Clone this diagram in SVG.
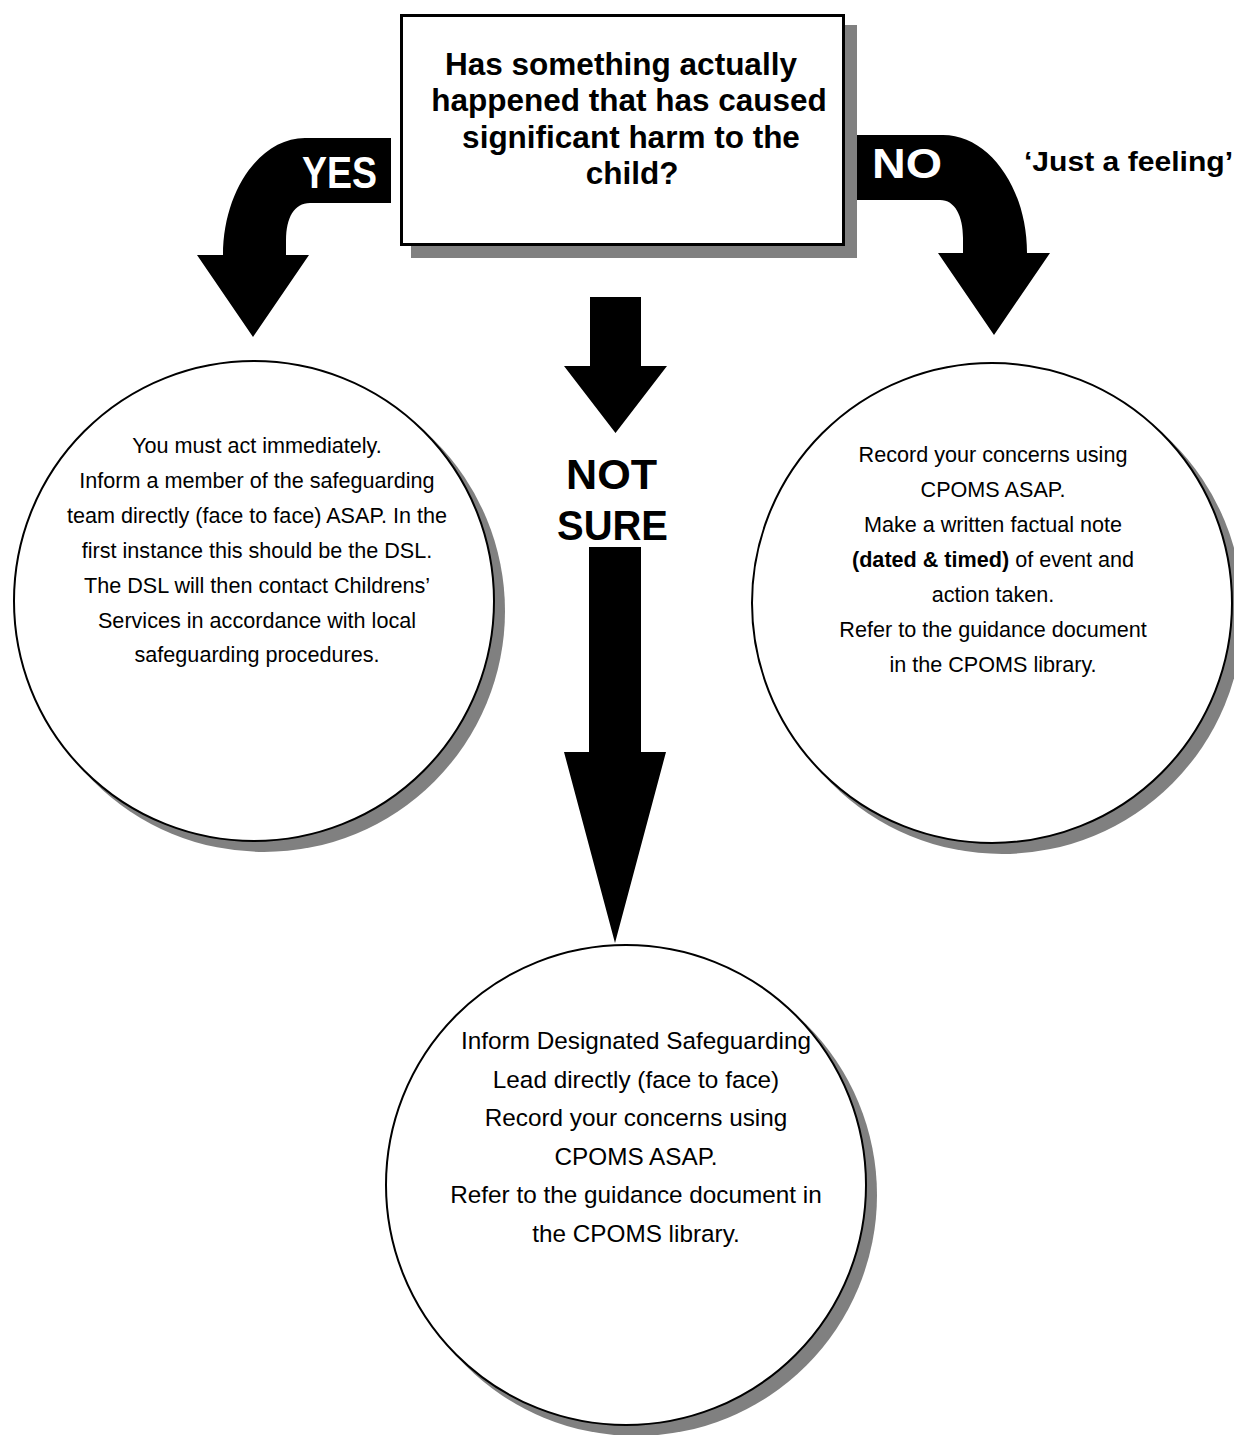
<svg xmlns="http://www.w3.org/2000/svg" width="1234" height="1435" viewBox="0 0 1234 1435">
  <style>
    .shadow { fill: #808080; stroke: none; }
    .node { fill: #ffffff; stroke: #000000; stroke-width: 2; }
    .box { fill: #ffffff; stroke: #000000; stroke-width: 3; }
    .arrow { fill: #000000; stroke: none; }
    .q { font-family: "Liberation Sans", Arial, sans-serif; font-weight: bold; font-size: 31.5px; fill: #000; text-anchor: middle; }
    .body { font-family: "Liberation Sans", Arial, sans-serif; font-size: 21.6px; fill: #000; text-anchor: middle; }
    .body2 { font-family: "Liberation Sans", Arial, sans-serif; font-size: 24.3px; fill: #000; text-anchor: middle; }
    .lbl { font-family: "Liberation Sans", Arial, sans-serif; font-weight: bold; fill: #fff; }
    .lblk { font-family: "Liberation Sans", Arial, sans-serif; font-weight: bold; fill: #000; }
  </style>
  <rect width="1234" height="1435" fill="#ffffff"/>

  <g id="connectors">
    <path id="arrow-yes" class="arrow" d="M 391,138 L 305,138 C 260,138 223,191 223,255 L 197,255 L 253,337 L 309,255 L 286,255 L 286,240 C 286,218 294,203 310,203 L 391,203 Z"/>
    <path id="arrow-no" class="arrow" d="M 857,135 L 943,135 C 989,135 1027,188 1027,253 L 1050,253 L 994,335 L 938,253 L 963,253 L 963,238 C 963,216 955,200 940,200 L 857,200 Z"/>
    <path id="arrow-notsure-top" class="arrow" d="M 590,297 L 641,297 L 641,366 L 667,366 L 615.5,433 L 564,366 L 590,366 Z"/>
    <path id="arrow-notsure-bottom" class="arrow" d="M 589,547 L 641,547 L 641,752 L 666,752 L 615,943 L 564,752 L 589,752 Z"/>
    <text class="lbl" x="302" y="188" font-size="44" textLength="75" lengthAdjust="spacingAndGlyphs">YES</text>
    <text class="lbl" x="872" y="178" font-size="43" textLength="70" lengthAdjust="spacingAndGlyphs">NO</text>
    <text class="lblk" x="1024" y="171" font-size="28" textLength="209" lengthAdjust="spacingAndGlyphs">‘Just a feeling’</text>
    <text class="lblk" x="566" y="489" font-size="42" textLength="91" lengthAdjust="spacingAndGlyphs">NOT</text>
    <text class="lblk" x="557" y="540" font-size="42" textLength="111" lengthAdjust="spacingAndGlyphs">SURE</text>
  </g>

  <g id="node-question">
    <rect class="shadow" x="411" y="25" width="446" height="233"/>
    <rect class="box" x="401.5" y="15.5" width="442" height="229"/>
    <text class="q" x="621" y="75">Has something actually</text>
    <text class="q" x="629" y="111">happened that has caused</text>
    <text class="q" x="631" y="148">significant harm to the</text>
    <text class="q" x="632" y="184">child?</text>
  </g>

  <g id="node-yes">
    <circle class="shadow" cx="264" cy="611" r="241"/>
    <circle class="node" cx="254" cy="601" r="240"/>
    <text class="body" x="257" y="453">You must act immediately.</text>
    <text class="body" x="257" y="488">Inform a member of the safeguarding</text>
    <text class="body" x="257" y="523">team directly (face to face) ASAP. In the</text>
    <text class="body" x="257" y="558">first instance this should be the DSL.</text>
    <text class="body" x="257" y="593">The DSL will then contact Childrens’</text>
    <text class="body" x="257" y="628">Services in accordance with local</text>
    <text class="body" x="257" y="662">safeguarding procedures.</text>
  </g>

  <g id="node-no">
    <circle class="shadow" cx="1002" cy="613" r="241"/>
    <circle class="node" cx="992" cy="603" r="240"/>
    <text class="body" x="993" y="462">Record your concerns using</text>
    <text class="body" x="993" y="497">CPOMS ASAP.</text>
    <text class="body" x="993" y="532">Make a written factual note</text>
    <text class="body" x="993" y="567"><tspan font-weight="bold">(dated &amp; timed)</tspan> of event and</text>
    <text class="body" x="993" y="602">action taken.</text>
    <text class="body" x="993" y="637">Refer to the guidance document</text>
    <text class="body" x="993" y="672">in the CPOMS library.</text>
  </g>

  <g id="node-notsure">
    <circle class="shadow" cx="636" cy="1195" r="241"/>
    <circle class="node" cx="626" cy="1185" r="240"/>
    <text class="body2" x="636" y="1049">Inform Designated Safeguarding</text>
    <text class="body2" x="636" y="1088">Lead directly (face to face)</text>
    <text class="body2" x="636" y="1126">Record your concerns using</text>
    <text class="body2" x="636" y="1165">CPOMS ASAP.</text>
    <text class="body2" x="636" y="1203">Refer to the guidance document in</text>
    <text class="body2" x="636" y="1242">the CPOMS library.</text>
  </g>
</svg>
